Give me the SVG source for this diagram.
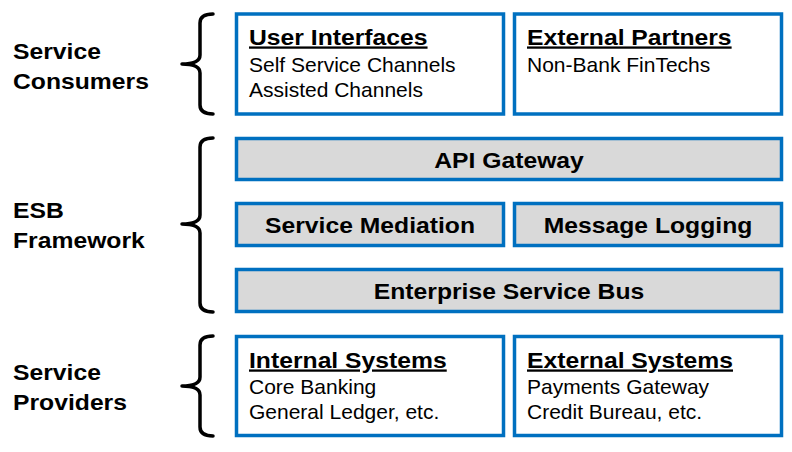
<svg xmlns="http://www.w3.org/2000/svg" width="792" height="452" viewBox="0 0 792 452">
<style>
.box{fill:#FFFFFF;stroke:#0070C0;stroke-width:3.5}
.gbox{fill:#D9D9D9;stroke:#0070C0;stroke-width:3.5}
.brace{fill:none;stroke:#000000;stroke-width:3.5;stroke-linecap:round;stroke-linejoin:round}
text{font-family:"Liberation Sans",Arial,sans-serif;fill:#000000}
.b{font-weight:bold;font-size:23px}
.r{font-size:21px}
.u{text-decoration:underline}
.c{text-anchor:middle}
</style>
<rect width="792" height="452" fill="#FFFFFF"/>
<g id="labels">
  <g id="label-consumers">
    <text class="b" transform="translate(13,58.5) scale(1.075,1)">Service</text>
    <text class="b" transform="translate(13,88.5) scale(1.075,1)">Consumers</text>
  </g>
  <g id="label-esb">
    <text class="b" transform="translate(13,218) scale(1.075,1)">ESB</text>
    <text class="b" transform="translate(13,248) scale(1.075,1)">Framework</text>
  </g>
  <g id="label-providers">
    <text class="b" transform="translate(13,379.5) scale(1.075,1)">Service</text>
    <text class="b" transform="translate(13,409.5) scale(1.075,1)">Providers</text>
  </g>
</g>
<g id="connectors">
  <path class="brace" d="M213,14 Q200,14 200,23 L200,55 Q200,64 182,64 Q200,64 200,73 L200,105 Q200,114 213,114"/>
  <path class="brace" d="M213,138 Q200,138 200,147 L200,215 Q200,224 182,224 Q200,224 200,233 L200,303 Q200,312 213,312"/>
  <path class="brace" d="M213,336 Q200,336 200,345 L200,377 Q200,386 182,386 Q200,386 200,395 L200,427 Q200,436 213,436"/>
</g>
<g id="user-interfaces">
  <rect class="box" x="236.5" y="14" width="267" height="100"/>
  <text class="b u" transform="translate(249,44.5) scale(1.075,1)">User Interfaces</text>
  <text class="r" x="249" y="72">Self Service Channels</text>
  <text class="r" x="249" y="97">Assisted Channels</text>
</g>
<g id="external-partners">
  <rect class="box" x="514.5" y="14" width="267" height="100"/>
  <text class="b u" transform="translate(527,44.5) scale(1.075,1)">External Partners</text>
  <text class="r" x="527" y="72">Non-Bank FinTechs</text>
</g>
<g id="api-gateway">
  <rect class="gbox" x="236.5" y="138.5" width="545" height="41"/>
  <text class="b c" transform="translate(509,167.5) scale(1.075,1)">API Gateway</text>
</g>
<g id="service-mediation">
  <rect class="gbox" x="236.5" y="203.5" width="267" height="42"/>
  <text class="b c" transform="translate(370,233) scale(1.075,1)">Service Mediation</text>
</g>
<g id="message-logging">
  <rect class="gbox" x="514.5" y="203.5" width="267" height="42"/>
  <text class="b c" transform="translate(648,233) scale(1.075,1)">Message Logging</text>
</g>
<g id="enterprise-service-bus">
  <rect class="gbox" x="236.5" y="269.5" width="545" height="42"/>
  <text class="b c" transform="translate(509,299) scale(1.075,1)">Enterprise Service Bus</text>
</g>
<g id="internal-systems">
  <rect class="box" x="236.5" y="336.5" width="267" height="99"/>
  <text class="b u" transform="translate(249,367.5) scale(1.075,1)">Internal Systems</text>
  <text class="r" x="249" y="394">Core Banking</text>
  <text class="r" x="249" y="419">General Ledger, etc.</text>
</g>
<g id="external-systems">
  <rect class="box" x="514.5" y="336.5" width="267" height="99"/>
  <text class="b u" transform="translate(527,367.5) scale(1.075,1)">External Systems</text>
  <text class="r" x="527" y="394">Payments Gateway</text>
  <text class="r" x="527" y="419">Credit Bureau, etc.</text>
</g>
</svg>
